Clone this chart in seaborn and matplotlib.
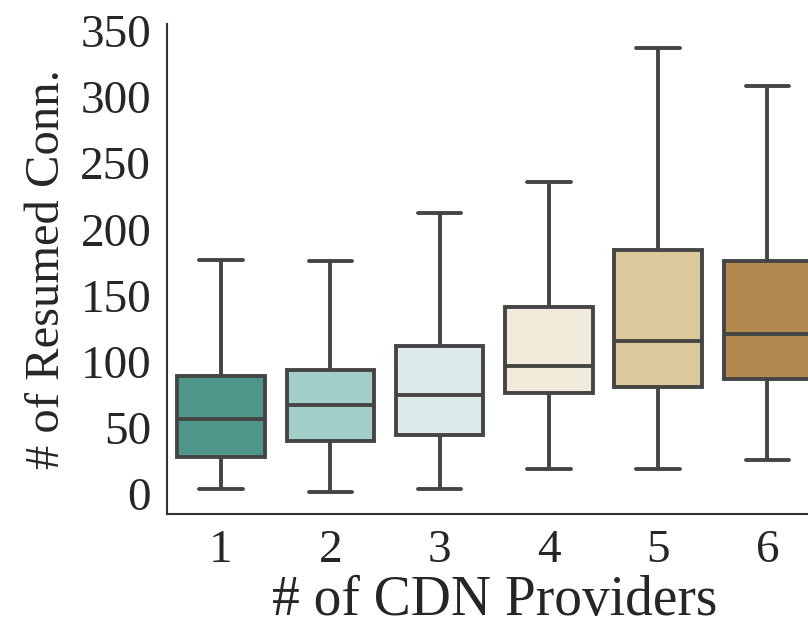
import matplotlib
matplotlib.use("Agg")
import matplotlib.pyplot as plt
import seaborn as sns
import pandas as pd

# Five-number summaries per provider count: lower whisker, Q1, median, Q3, upper whisker
providers = ["1", "2", "3", "4", "5", "6"]
lower_whisker = [4, 1.5, 4, 19, 19, 26]
q1 = [28, 40, 45, 76, 81, 87]
median = [57, 67, 75, 97, 116, 121]
q3 = [89, 94, 112, 141, 184, 176]
upper_whisker = [177, 176, 212, 236, 337, 308]
box_colors = ["#4F968A", "#A2D0C8", "#DDEBEA", "#F1EBDC", "#DBC99C", "#B3894F"]

rows = []
for i, p in enumerate(providers):
    for v in (lower_whisker[i], q1[i], median[i], q3[i], upper_whisker[i]):
        rows.append({"providers": p, "resumed": v})
df = pd.DataFrame(rows)

sns.set_style("white")
plt.rcParams["font.family"] = ["Liberation Serif", "DejaVu Serif"]

fig = plt.figure(figsize=(8.08, 6.27), dpi=100)
ax = fig.add_axes([166.5 / 808, 113 / 627, (822 - 166.5) / 808, (514 - 24) / 627])

sns.boxplot(
    data=df, x="providers", y="resumed", hue="providers", order=providers,
    palette=box_colors, saturation=1, whis=(0, 100), width=0.8, linewidth=2.8,
    linecolor="#454545", legend=False, ax=ax,
)

ax.set_ylim(-15, 355)
ax.set_xlim(-0.5, 5.5)
ax.set_yticks(range(0, 351, 50))
ax.set_xlabel("# of CDN Providers", fontsize=40, color="#262626", labelpad=2)
ax.set_ylabel("# of Resumed Conn.", fontsize=35, color="#262626", labelpad=8)
ax.tick_params(axis="both", labelsize=34, pad=11, colors="#262626", length=0)
sns.despine(ax=ax)
for s in ("left", "bottom"):
    ax.spines[s].set_color("#333333")
    ax.spines[s].set_linewidth(1.5)

fig.savefig("out.png", dpi=100)
